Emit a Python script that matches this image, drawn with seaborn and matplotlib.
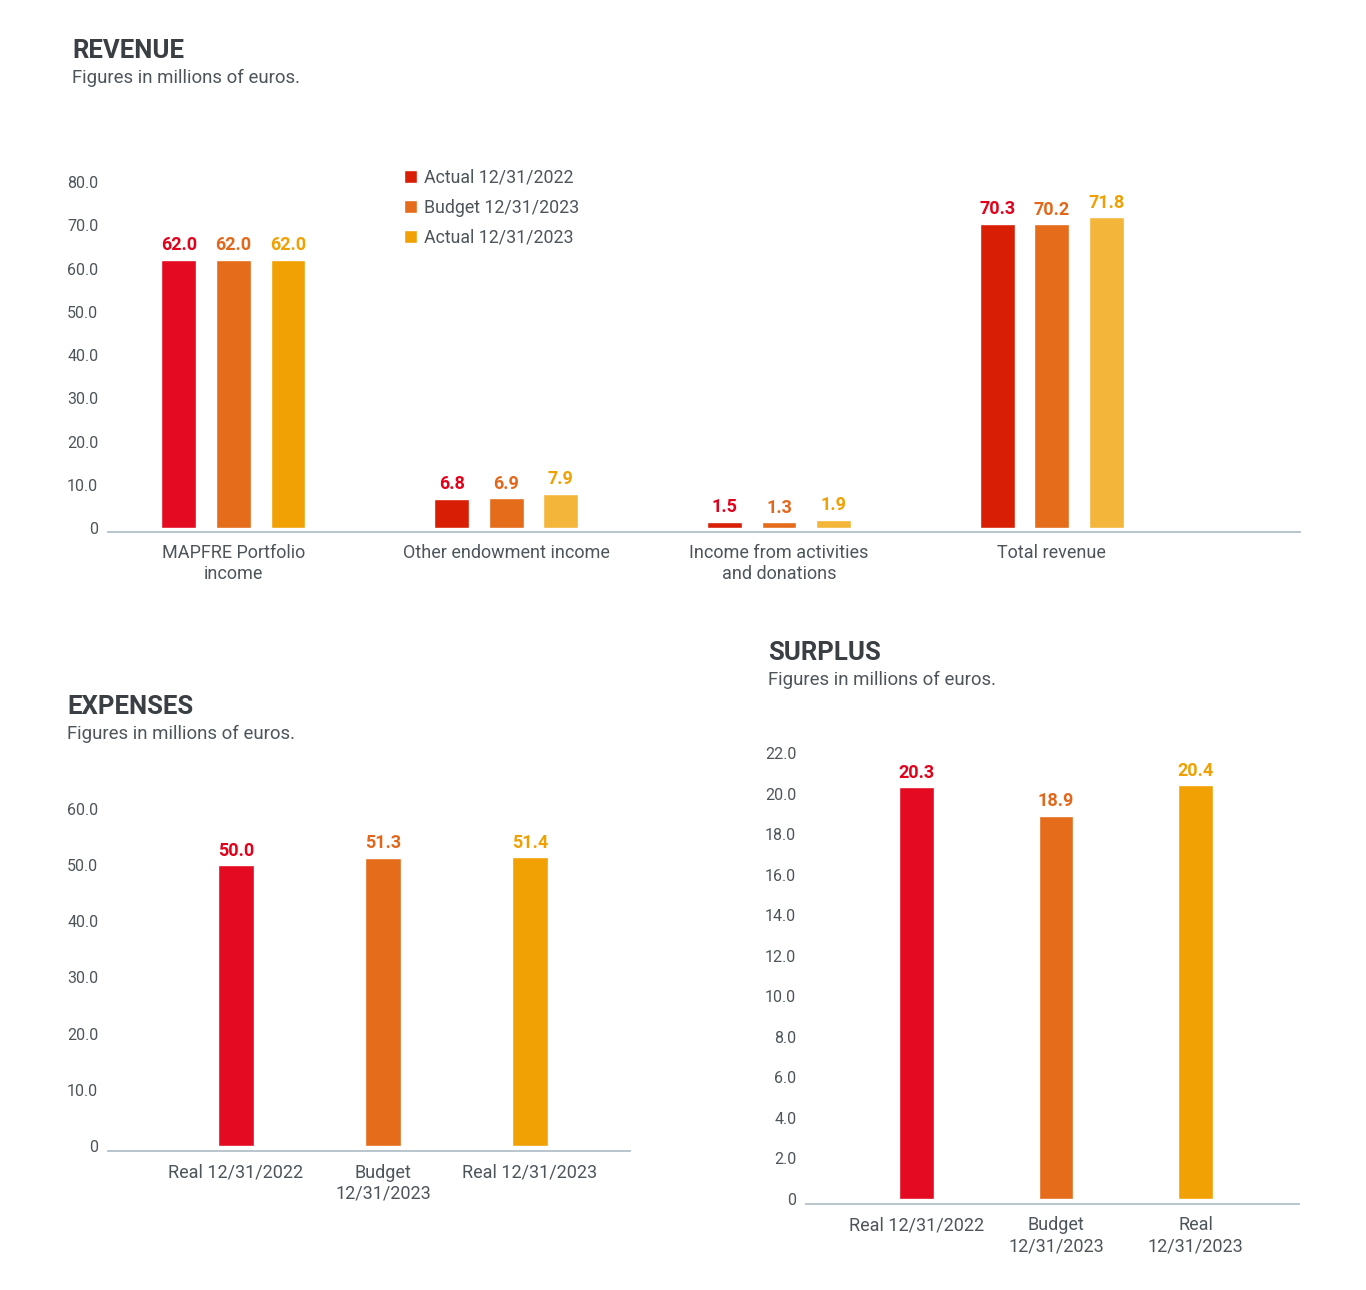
import seaborn as sns
import pandas as pd
import matplotlib.pyplot as plt

# Revenue data (millions of euros)
revenue_categories = ["MAPFRE Portfolio\nincome", "Other endowment income",
                      "Income from activities\nand donations", "Total revenue"]
revenue_series = ["Actual 12/31/2022", "Budget 12/31/2023", "Actual 12/31/2023"]
actual_2022 = [62.0, 6.8, 1.5, 70.3]
budget_2023 = [62.0, 6.9, 1.3, 70.2]
actual_2023 = [62.0, 7.9, 1.9, 71.8]

# Expenses
expense_labels = ["Real 12/31/2022", "Budget\n12/31/2023", "Real 12/31/2023"]
expense_values = [50.0, 51.3, 51.4]

# Surplus
surplus_labels = ["Real 12/31/2022", "Budget\n12/31/2023", "Real\n12/31/2023"]
surplus_values = [20.3, 18.9, 20.4]

revenue_ticks = [0, 10, 20, 30, 40, 50, 60, 70, 80]
expense_ticks = [0, 10, 20, 30, 40, 50, 60]
surplus_ticks = [0, 2, 4, 6, 8, 10, 12, 14, 16, 18, 20, 22]

RED = "#E30A22"
ORANGE = "#E46C1A"
YELLOW = "#F2A104"
label_colors = ["#E2001A", "#E3671A", "#F0A000"]
TEXT = "#4d555b"
TITLE = "#3a3f44"
AXIS = "#b3c0c9"

sns.set_style("white")
plt.rcParams["font.family"] = ["Roboto", "DejaVu Sans"]

fig = plt.figure(figsize=(13.66, 12.9), dpi=100)


def fmt_tick(v):
    return "0" if v == 0 else f"{v:.1f}"


def style_axis(ax, ticks, ylim):
    ax.set_ylim(*ylim)
    ax.set_yticks(ticks)
    ax.set_yticklabels([fmt_tick(t) for t in ticks])
    for s in ["top", "right", "left"]:
        ax.spines[s].set_visible(False)
    ax.spines["bottom"].set_color(AXIS)
    ax.spines["bottom"].set_linewidth(1.3)
    ax.tick_params(axis="y", length=0, pad=7, labelsize=11.5, labelcolor=TEXT)
    ax.tick_params(axis="x", length=0, pad=9, labelsize=13, labelcolor=TEXT)
    ax.set_xlabel("")
    ax.set_ylabel("")


def add_header(x, y, title):
    fig.text(x, y, title, fontsize=18.5, fontweight="bold", color=TITLE, va="center")
    fig.text(x, y - 27 / 1290, "Figures in millions of euros.", fontsize=13.4,
             color=TEXT, va="center")


# ---------------- Revenue ----------------
rev = pd.DataFrame({
    "category": revenue_categories * 3,
    "series": [revenue_series[0]] * 4 + [revenue_series[1]] * 4 + [revenue_series[2]] * 4,
    "value": actual_2022 + budget_2023 + actual_2023,
})
ax1 = fig.add_axes([108 / 1366, 1 - 532 / 1290, 1192 / 1366, 350 / 1290])
sns.barplot(data=rev, x="category", y="value", hue="series", ax=ax1,
            palette=["#D81E05", ORANGE, YELLOW], width=0.6, gap=0.36,
            errorbar=None, saturation=1)
ax1.set_xlim(-0.46, 3.91)
style_axis(ax1, revenue_ticks, (-0.9, 80))

# small shade differences between groups as in the original
for i, bar in enumerate(ax1.containers[0]):
    if i == 0:
        bar.set_facecolor(RED)
for i, bar in enumerate(ax1.containers[2]):
    if i > 0:
        bar.set_facecolor("#F3B53A")
for cont, col in zip(ax1.containers, label_colors):
    ax1.bar_label(cont, fmt="%.1f", padding=4, color=col, fontsize=13, fontweight="bold")

sns.move_legend(ax1, "upper left", bbox_to_anchor=(388 / 1366, 1 - 153 / 1290),
                bbox_transform=fig.transFigure, frameon=False, title=None,
                fontsize=12.8, handlelength=0.72, handleheight=0.72,
                handletextpad=0.4, labelspacing=0.66)
for t in ax1.get_legend().get_texts():
    t.set_color(TEXT)

add_header(72 / 1366, 1 - 51 / 1290, "REVENUE")

# ---------------- Expenses ----------------
exp = pd.DataFrame({"label": expense_labels, "value": expense_values})
ax2 = fig.add_axes([108 / 1366, 1 - 1151 / 1290, 522 / 1366, 342 / 1290])
sns.barplot(data=exp, x="label", y="value", hue="label", ax=ax2,
            palette=[RED, ORANGE, YELLOW], width=0.24, legend=False,
            errorbar=None, saturation=1)
ax2.set_xlim(-0.87, 2.68)
style_axis(ax2, expense_ticks, (-0.9, 60))
for cont, col in zip(ax2.containers, label_colors):
    ax2.bar_label(cont, fmt="%.1f", padding=4, color=col, fontsize=13, fontweight="bold")

add_header(67 / 1366, 1 - 707 / 1290, "EXPENSES")

# ---------------- Surplus ----------------
sur = pd.DataFrame({"label": surplus_labels, "value": surplus_values})
ax3 = fig.add_axes([806 / 1366, 1 - 1204 / 1290, 493 / 1366, 451 / 1290])
sns.barplot(data=sur, x="label", y="value", hue="label", ax=ax3,
            palette=[RED, ORANGE, YELLOW], width=0.25, legend=False,
            errorbar=None, saturation=1)
ax3.set_xlim(-0.79, 2.74)
style_axis(ax3, surplus_ticks, (-0.25, 22))
for cont, col in zip(ax3.containers, label_colors):
    ax3.bar_label(cont, fmt="%.1f", padding=4, color=col, fontsize=13, fontweight="bold")

add_header(768 / 1366, 1 - 653 / 1290, "SURPLUS")

fig.savefig("out.png", dpi=100, facecolor="white")
